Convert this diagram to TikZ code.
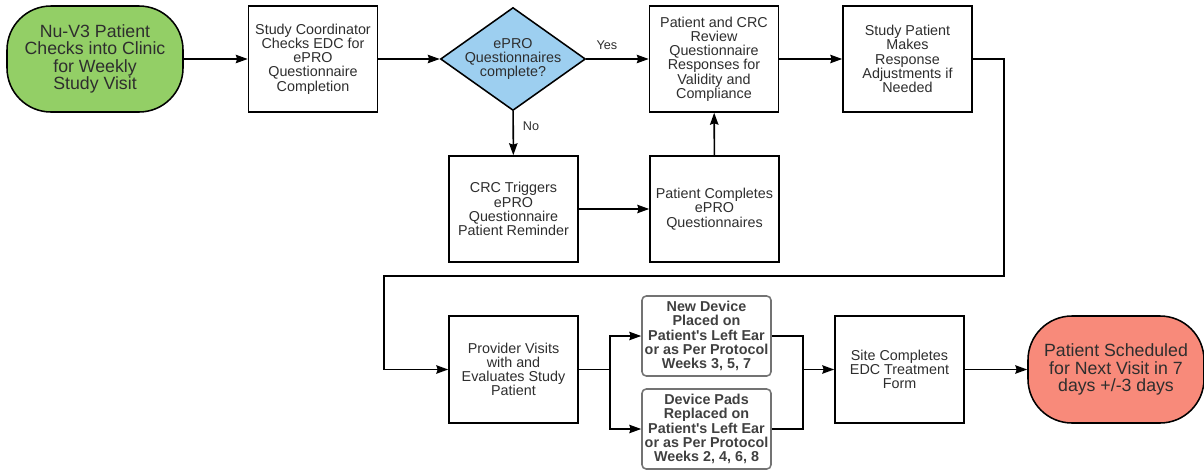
\documentclass[tikz,border=0pt]{standalone}
\usepackage{fontspec}
\setmainfont{Liberation Sans}
\usetikzlibrary{positioning}
\usetikzlibrary{arrows.meta}
\usetikzlibrary{shapes.geometric}
\definecolor{startc}{HTML}{93CF66}
\definecolor{decidec}{HTML}{9DCFF0}
\definecolor{stopc}{HTML}{F88A7A}
\colorlet{textc}{black!82}

\begin{document}
\begin{tikzpicture}[
  procbox/.style={draw, shape=rectangle, fill=white, line width=1.1pt, text=textc,
    minimum width=3.225cm, minimum height=2.65cm, inner sep=1pt, align=center,
    font=\fontsize{10.2}{10.1}\selectfont},
  termbox/.style={draw, shape=rectangle, rounded corners=1.1cm, line width=1.1pt, text=textc,
    minimum width=4.4cm, minimum height=2.65cm, inner sep=1pt, align=center,
    font=\fontsize{12.6}{12.4}\selectfont},
  decision/.style={draw, shape=diamond, fill=decidec, line width=1.1pt, text=textc,
    minimum width=3.625cm, minimum height=2.575cm, shape aspect=1.41, inner sep=-3pt,
    align=center, font=\fontsize{10.2}{10.1}\selectfont},
  devbox/.style={draw=black!55, shape=rectangle, rounded corners=3pt, line width=1.1pt, text=black!75,
    minimum width=3.225cm, minimum height=2.0cm, inner sep=1pt, align=center,
    font=\fontsize{10.2}{10.1}\selectfont\bfseries},
  flow/.style={draw, line width=1.1pt, -{Stealth[length=8.5pt,width=6pt,inset=1pt]}},
  branch/.style={font=\fontsize{9}{10}\selectfont, text=textc},
]
\useasboundingbox (0cm,0cm) rectangle (30.1cm,-11.775cm);

% top row
\node[termbox, fill=startc] (start) at (2.375cm,-1.475cm)
{Nu-V3 Patient\\Checks into Clinic\\for Weekly\\Study Visit};
\node[procbox] (coord) at (7.825cm,-1.475cm)
{Study Coordinator\\Checks EDC for\\ePRO\\Questionnaire\\Completion};
\node[decision] (check) at (12.825cm,-1.475cm)
{ePRO\\Questionnaires\\complete?};
\node[procbox] (review) at (17.85cm,-1.475cm)
{Patient and CRC\\Review\\Questionnaire\\Responses for\\Validity and\\Compliance};
\node[procbox] (adjust) at (22.6875cm,-1.475cm)
{Study Patient\\Makes\\Response\\Adjustments if\\Needed};

% reminder loop
\node[procbox] (trigger) at (12.8375cm,-5.225cm)
{CRC Triggers\\ePRO\\Questionnaire\\Patient Reminder};
\node[procbox] (complete) at (17.8625cm,-5.225cm)
{Patient Completes\\ePRO\\Questionnaires};

% bottom row
\node[procbox, minimum height=2.675cm] (provider) at (12.8375cm,-9.2375cm)
{Provider Visits\\with and\\Evaluates Study\\Patient};
\node[devbox] (newdev) at (17.6625cm,-8.4cm)
{New Device\\Placed on\\Patient\textquotesingle s Left Ear\\or as Per Protocol\\Weeks 3, 5, 7};
\node[devbox] (pads) at (17.6625cm,-10.725cm)
{Device Pads\\Replaced on\\Patient\textquotesingle s Left Ear\\or as Per Protocol\\Weeks 2, 4, 6, 8};
\node[procbox, minimum height=2.675cm] (site) at (22.4875cm,-9.2375cm)
{Site Completes\\EDC Treatment\\Form};
\node[termbox, fill=stopc, minimum height=2.675cm] (finish) at (27.9cm,-9.2375cm)
{Patient Scheduled\\for Next Visit in 7\\days +/-3 days};

\coordinate (split) at (15.25cm,-9.2375cm);
\coordinate (merge) at (20.075cm,-9.2375cm);

\draw[flow] (start) -- (coord);
\draw[flow] (coord) -- (check);
\draw[flow] (check) -- node[branch, pos=0.33, above=3pt] {Yes} (review);
\draw[flow] (check) -- node[branch, pos=0.35, right=3pt] {No} (trigger);
\draw[flow] (trigger) -- (complete);
\draw[flow] (complete) -- (review);
\draw[flow] (review) -- (adjust);
\draw[flow] (adjust.east) -- (25.1cm,-1.475cm) -- (25.1cm,-6.9cm) -- (9.6cm,-6.9cm)
  |- (provider.west);
\draw[line width=1.1pt] (provider.east) -- (split);
\draw[flow] (split) |- (newdev.west);
\draw[flow] (split) |- (pads.west);
\draw[line width=1.1pt] (newdev.east) -| (merge);
\draw[line width=1.1pt] (pads.east) -| (merge);
\draw[flow] (merge) -- (site);
\draw[flow] (site) -- (finish);

\end{tikzpicture}
\end{document}
